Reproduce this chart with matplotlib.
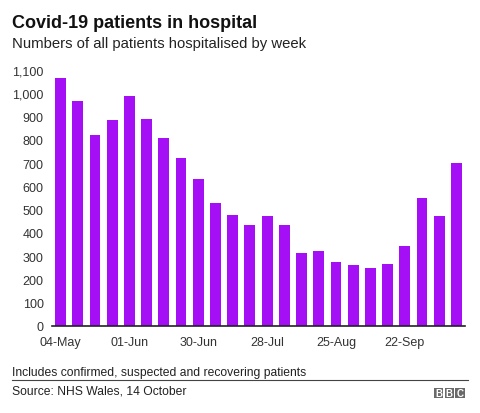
import matplotlib.pyplot as plt
import matplotlib.patches as mpatches

plt.rcParams['font.family'] = ['Liberation Sans', 'DejaVu Sans']

# weekly patients in hospital
weeks = list(range(24))
patients = [1067, 965, 819, 884, 988, 888, 806, 723, 633, 527, 476, 434,
            472, 435, 315, 322, 277, 263, 248, 266, 343, 550, 472, 700]
tick_pos = [0, 4, 8, 12, 16, 20]
tick_labels = ['04-May', '01-Jun', '30-Jun', '28-Jul', '25-Aug', '22-Sep']
y_ticks = list(range(0, 1101, 100))

W, H = 480, 414
fig = plt.figure(figsize=(4.8, 4.14), dpi=100)

ax = fig.add_axes([52/W, 1 - 327/H, (465-52)/W, (327-71)/H])
ax.bar(weeks, patients, width=0.63, color='#A50FF5')
ax.set_xlim(-0.5, 23.5)
ax.set_ylim(0, 1100)
ax.set_yticks(y_ticks)
ax.set_yticklabels([f'{v:,}' for v in y_ticks])
ax.set_xticks(tick_pos)
ax.set_xticklabels(tick_labels)
ax.tick_params(axis='both', length=0, labelsize=9, colors='#333333')
ax.tick_params(axis='y', pad=6)
ax.tick_params(axis='x', pad=7)
for s in ['top', 'right', 'left']:
    ax.spines[s].set_visible(False)
ax.spines['bottom'].set_color('#222222')
ax.spines['bottom'].set_linewidth(1.2)

fig.text(12/W, 1 - 23/H, 'Covid-19 patients in hospital', fontsize=13,
         fontweight='bold', color='#111111', va='center')
fig.text(12/W, 1 - 44/H, 'Numbers of all patients hospitalised by week',
         fontsize=10.7, color='#222222', va='center')
fig.text(12/W, 1 - 373/H, 'Includes confirmed, suspected and recovering patients',
         fontsize=8.7, color='#222222', va='center')
fig.add_artist(plt.Line2D([12/W, 468/W], [1 - 381/H, 1 - 381/H],
                          color='#444444', linewidth=0.8))
fig.text(12/W, 1 - 392/H, 'Source: NHS Wales, 14 October',
         fontsize=8.7, color='#222222', va='center')

# BBC blocks
for i, letter in enumerate('BBC'):
    x0 = 434 + i * 10.7
    fig.add_artist(mpatches.Rectangle((x0/W, 1 - 399/H), 9.3/W, 10/H,
                                      facecolor='#6a6a6a', edgecolor='none'))
    fig.text((x0 + 4.65)/W, 1 - 394/H, letter, fontsize=7, fontweight='bold',
             color='white', ha='center', va='center')

fig.savefig('out.png', dpi=100)
